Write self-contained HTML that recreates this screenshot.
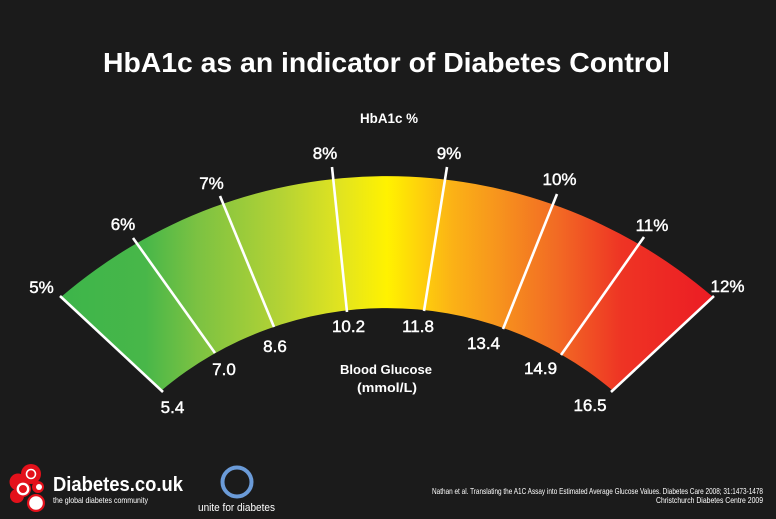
<!DOCTYPE html>
<html><head><meta charset="utf-8"><style>
html,body{margin:0;padding:0;background:#1b1b1b;}
svg{display:block;}
text{font-family:"Liberation Sans",sans-serif;fill:#fff;}
</style></head><body>
<svg width="776" height="519" viewBox="0 0 776 519" xmlns="http://www.w3.org/2000/svg">
<defs>
<linearGradient id="g" gradientUnits="userSpaceOnUse" x1="61" y1="0" x2="713" y2="0">
<stop offset="0" stop-color="#3db54a"/>
<stop offset="0.13" stop-color="#48b749"/>
<stop offset="0.21" stop-color="#7cc242"/>
<stop offset="0.34" stop-color="#b5d334"/>
<stop offset="0.43" stop-color="#e2e41f"/>
<stop offset="0.50" stop-color="#fff200"/>
<stop offset="0.55" stop-color="#fed20b"/>
<stop offset="0.60" stop-color="#fbb216"/>
<stop offset="0.67" stop-color="#f7941d"/>
<stop offset="0.76" stop-color="#f26b24"/>
<stop offset="0.86" stop-color="#ee3424"/>
<stop offset="1" stop-color="#ec1c24"/>
</linearGradient>
</defs>
<rect width="776" height="519" fill="#1b1b1b"/>

<text x="386.5" y="72" font-size="28" font-weight="bold" text-anchor="middle" textLength="567" lengthAdjust="spacingAndGlyphs">HbA1c as an indicator of Diabetes Control</text>
<text x="389" y="123" font-size="14" font-weight="bold" text-anchor="middle" textLength="58" lengthAdjust="spacingAndGlyphs">HbA1c %</text>

<path d="M61,297 A500,500 0 0 1 713,297 L612,390 A350,350 0 0 0 162,390 Z" fill="url(#g)"/>

<g stroke="#fff" stroke-width="2.6" stroke-linecap="butt">
<line x1="60" y1="296" x2="163" y2="392"/>
<line x1="133" y1="238" x2="215" y2="353"/>
<line x1="220" y1="196" x2="274" y2="327"/>
<line x1="332" y1="167" x2="347" y2="312"/>
<line x1="447" y1="167" x2="424" y2="311"/>
<line x1="557" y1="194" x2="503" y2="329"/>
<line x1="644" y1="237" x2="561" y2="355"/>
<line x1="714" y1="296" x2="611" y2="392"/>
</g>

<g font-size="17" stroke="#fff" stroke-width="0.45">
<text x="41.5" y="293" text-anchor="middle">5%</text>
<text x="123" y="230" text-anchor="middle">6%</text>
<text x="211.5" y="189" text-anchor="middle">7%</text>
<text x="325" y="159" text-anchor="middle">8%</text>
<text x="449" y="159" text-anchor="middle">9%</text>
<text x="559.5" y="185" text-anchor="middle">10%</text>
<text x="652" y="231" text-anchor="middle">11%</text>
<text x="727.5" y="292" text-anchor="middle">12%</text>

<text x="172.5" y="413" text-anchor="middle">5.4</text>
<text x="224" y="375" text-anchor="middle">7.0</text>
<text x="275" y="352" text-anchor="middle">8.6</text>
<text x="348.5" y="332" text-anchor="middle">10.2</text>
<text x="418" y="332" text-anchor="middle">11.8</text>
<text x="483.5" y="349" text-anchor="middle">13.4</text>
<text x="540.5" y="374" text-anchor="middle">14.9</text>
<text x="590" y="411" text-anchor="middle">16.5</text>
</g>

<text x="386" y="374" font-size="13" font-weight="bold" text-anchor="middle" textLength="92" lengthAdjust="spacingAndGlyphs">Blood Glucose</text>
<text x="387" y="392" font-size="13" font-weight="bold" text-anchor="middle" textLength="60" lengthAdjust="spacingAndGlyphs">(mmol/L)</text>

<!-- Diabetes.co.uk logo -->
<g>
<circle cx="31" cy="474" r="10" fill="#e3111b"/>
<circle cx="18" cy="482" r="8.5" fill="#e3111b"/>
<circle cx="17" cy="496" r="7" fill="#e3111b"/>
<circle cx="23" cy="489" r="8" fill="#e3111b"/>
<circle cx="38" cy="487" r="6" fill="#e3111b"/>
<circle cx="36" cy="503" r="9" fill="#e3111b"/>
<circle cx="31" cy="474" r="4.5" fill="none" stroke="#fff" stroke-width="1.6"/>
<circle cx="23" cy="489" r="5.2" fill="none" stroke="#fff" stroke-width="2.4"/>
<circle cx="39" cy="487" r="3" fill="#fff"/>
<circle cx="36" cy="503" r="6.8" fill="#fff"/>
</g>
<text x="53" y="491" font-size="20" font-weight="bold" textLength="130" lengthAdjust="spacingAndGlyphs">Diabetes.co.uk</text>
<text x="53" y="503" font-size="8.5" textLength="95" lengthAdjust="spacingAndGlyphs" fill="#e6e6e6">the global diabetes community</text>

<!-- unite for diabetes -->
<circle cx="237" cy="482" r="14.5" fill="none" stroke="#6b9bd8" stroke-width="4"/>
<text x="198" y="511" font-size="11" textLength="77" lengthAdjust="spacingAndGlyphs" fill="#8e95a6">unite for diabetes</text>

<!-- footnote -->
<text x="763" y="494" font-size="8.5" text-anchor="end" textLength="331" lengthAdjust="spacingAndGlyphs" fill="#e0e0e0">Nathan et al. Translating the A1C Assay into Estimated Average Glucose Values. Diabetes Care 2008; 31:1473-1478</text>
<text x="763" y="503" font-size="8.5" text-anchor="end" textLength="107" lengthAdjust="spacingAndGlyphs" fill="#e0e0e0">Christchurch Diabetes Centre 2009</text>
</svg>
</body></html>
